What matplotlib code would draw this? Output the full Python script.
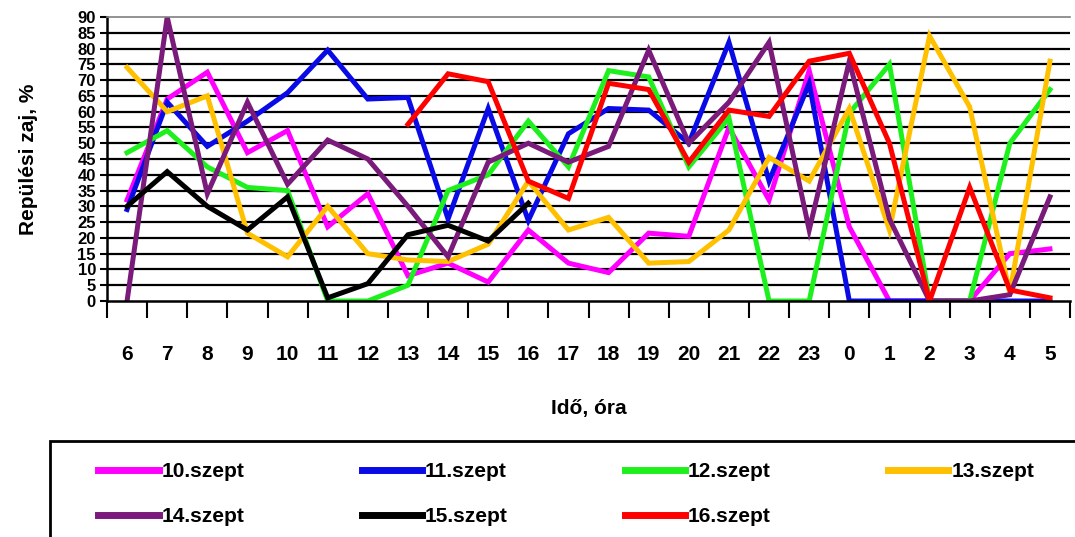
import matplotlib.pyplot as plt
from matplotlib.patches import Rectangle
import numpy as np

plt.rcParams['font.family'] = ['Liberation Sans', 'DejaVu Sans']

hours = ['6', '7', '8', '9', '10', '11', '12', '13', '14', '15', '16', '17',
         '18', '19', '20', '21', '22', '23', '0', '1', '2', '3', '4', '5']
nan = np.nan
szept10 = [32, 64, 72.5, 47, 54, 23.5, 34, 8, 12, 6, 22.5, 12,
           9, 21.5, 20.5, 55, 32, 73, 23.5, 0, 0, 0, 15, 16.5]
szept11 = [29, 63, 49, 57, 66, 79.5, 64, 64.5, 26, 61, 25.5, 53,
           61, 60.5, 50, 82, 38, 69, 0, 0, 0, 0, 0, 0]
szept12 = [47, 54, 42.5, 36, 35, 0, 0, 5, 35, 40, 57, 42.5,
           73, 71, 42.5, 58, 0, 0, 59.5, 75, 0, 0, 50, 67]
szept13 = [74, 60, 65, 21.5, 14, 30, 15, 13, 12.5, 18, 38, 22.5,
           26.5, 12, 12.5, 22.5, 45.5, 38, 61, 22.5, 84, 61.5, 2.5, 76]
szept14 = [0, 90, 34, 63, 37, 51, 45, 30, 14, 44, 50, 44,
           49, 79.5, 50, 63, 82, 22.5, 76, 26, 0, 0, 2, 33]
szept15 = [30, 41, 30, 22.5, 33, 1, 5.5, 21, 24, 19, 31, nan,
           nan, nan, nan, nan, nan, nan, nan, nan, nan, nan, nan, nan]
szept16 = [nan, nan, nan, nan, nan, nan, nan, 56, 72, 69.5, 38, 32.5,
           69, 67, 44, 60.5, 58.5, 76, 78.5, 50, 0, 36, 3.5, 1]

series = [
    ('10.szept', szept10, '#FF00FF'),
    ('11.szept', szept11, '#0A0AE6'),
    ('12.szept', szept12, '#1EF01E'),
    ('13.szept', szept13, '#FFC000'),
    ('14.szept', szept14, '#7A1A7A'),
    ('15.szept', szept15, '#000000'),
    ('16.szept', szept16, '#FF0000'),
]

fig = plt.figure(figsize=(10.75, 5.37), dpi=100)
ax = fig.add_axes([107 / 1075, 1 - 301 / 537, 963 / 1075, 284 / 537])

x = np.arange(len(hours))
handles = []
for name, vals, color in series:
    ln, = ax.plot(x, vals, color=color, lw=3.6, label=name, solid_joinstyle='miter')
    handles.append(ln)

ax.set_xlim(-0.5, len(hours) - 0.5)
ax.set_ylim(0, 90)
ax.set_yticks(np.arange(0, 91, 5))
for v in np.arange(5, 90, 5):
    ax.axhline(v, color='black', lw=1.6, zorder=0)

ax.set_xticks(x)
ax.set_xticklabels(hours, fontsize=15, fontweight='bold')
ax.tick_params(axis='x', which='major', length=0, pad=32)
ax.set_xticks(np.arange(-0.5, len(hours), 1), minor=True)
ax.tick_params(axis='x', which='minor', length=12, width=1.5, direction='out')
ax.tick_params(axis='y', length=5, width=1.5, pad=3, labelsize=12)
for lab in ax.get_yticklabels():
    lab.set_fontweight('bold')

ax.spines['left'].set_linewidth(1.8)
ax.spines['bottom'].set_linewidth(1.8)
ax.spines['top'].set_color('#808080')
ax.spines['top'].set_linewidth(1.2)
ax.spines['right'].set_visible(False)

ax.set_xlabel('Idő, óra', fontsize=15, fontweight='bold', labelpad=25)
ax.set_ylabel('Repülési zaj, %', fontsize=15, fontweight='bold')
ax.yaxis.set_label_coords(-0.072, 0.5)

# legend: row-major order with 4 columns
order = [0, 4, 1, 5, 2, 6, 3]
leg = fig.legend([handles[i] for i in order], [series[i][0] for i in order],
                 loc='upper left', bbox_to_anchor=(88 / 1075, 1 - 452 / 537),
                 ncol=4, frameon=False,
                 handlelength=2.9, handletextpad=0.15, borderpad=0.0,
                 labelspacing=1.25, columnspacing=5.6,
                 prop={'weight': 'bold', 'size': 15})
for h in leg.get_lines():
    h.set_linewidth(5)
fig.patches.append(Rectangle((50 / 1075, -0.05), 1.1, (537 - 441) / 537 + 0.05,
                             transform=fig.transFigure, fill=False,
                             edgecolor='black', lw=2))

fig.savefig('out.png', dpi=100, facecolor='white')
